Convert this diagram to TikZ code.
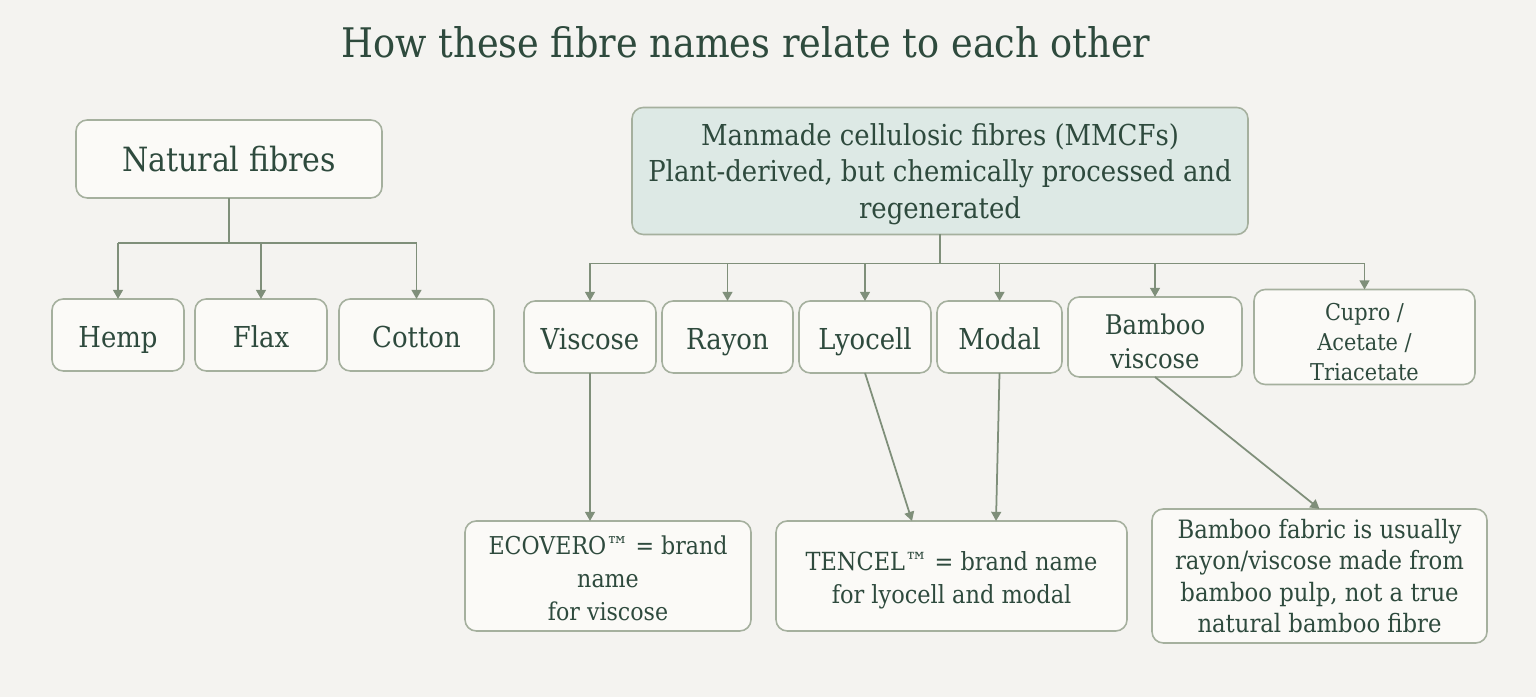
\documentclass[tikz,border=0pt]{standalone}
\usepackage{fontspec}
\setmainfont{DejaVu Serif Condensed}
\usepackage{xcolor}
\definecolor{PageBg}{HTML}{F4F3F0}
\definecolor{BoxFill}{HTML}{FBFAF7}
\definecolor{BoxLine}{HTML}{A5B09E}
\definecolor{MmcfFill}{HTML}{DDE9E5}
\definecolor{TextGreen}{HTML}{2E4A3D}
\definecolor{LinkGreen}{HTML}{7F8F7A}
\usepackage{tikz}
\usetikzlibrary{arrows.meta,positioning}
\newcommand{\padtop}[1]{\rule{0pt}{#1}}

\begin{document}
\begin{tikzpicture}[
  box/.style={draw=BoxLine,fill=BoxFill,rounded corners=3.2pt,align=center,text=TextGreen,line width=0.45pt,inner sep=0pt,outer sep=0pt},
  leaf/.style={box,minimum height=0.72cm,text height=0.85em,text depth=0.12em,font=\fontsize{8.2}{10}\selectfont},
  note/.style={box,minimum height=1.10cm},
  lnk/.style={line width=0.5pt,LinkGreen},
  arr/.style={lnk,-{Triangle[length=2.6pt,width=2.8pt]}}
]
  \fill[PageBg] (0,0) rectangle (15.36,-6.97);
  \useasboundingbox (0,0) rectangle (15.36,-6.97);

  \node[text=TextGreen,font=\fontsize{11.6}{14}\selectfont] (title) at (7.46,-0.42) {How these fibre names relate to each other};

  % natural side
  \node[box,minimum width=3.06cm,minimum height=0.78cm,font=\fontsize{9.5}{12}\selectfont] (natural) at (2.29,-1.59) {Natural fibres};
  \node[leaf,minimum width=1.32cm] (hemp) at (1.18,-3.35) {Hemp};
  \node[leaf,minimum width=1.32cm,right=0.11cm of hemp] (flax) {Flax};
  \node[leaf,minimum width=1.55cm,right=0.12cm of flax] (cotton) {Cotton};

  % manmade side
  \node[box,fill=MmcfFill,minimum width=6.16cm,minimum height=1.27cm,font=\fontsize{8.2}{10.4}\selectfont] (mmcf) at (9.40,-1.71)
    {\padtop{7.9pt}Manmade cellulosic fibres (MMCFs)\\Plant-derived, but chemically processed and\\regenerated};
  \node[leaf,minimum width=1.32cm] (viscose) at (5.90,-3.37) {Viscose};
  \node[leaf,minimum width=1.31cm,right=0.06cm of viscose] (rayon) {Rayon};
  \node[leaf,minimum width=1.32cm,right=0.06cm of rayon] (lyocell) {Lyocell};
  \node[leaf,minimum width=1.25cm,right=0.06cm of lyocell] (modal) {Modal};
  \node[box,minimum width=1.74cm,minimum height=0.80cm,font=\fontsize{7.7}{9.6}\selectfont,right=0.06cm of modal] (bamboo) {\padtop{8.4pt}Bamboo\\viscose};
  \node[box,minimum width=2.21cm,minimum height=0.95cm,font=\fontsize{6.6}{8.5}\selectfont,right=0.12cm of bamboo] (cupro) {\padtop{7.9pt}Cupro /\\Acetate /\\Triacetate};

  % notes
  \node[note,minimum width=2.86cm,font=\fontsize{7}{9.4}\selectfont] (ecovero) at (6.08,-5.76) {\padtop{6.6pt}ECOVERO™ = brand\\name\\for viscose};
  \node[note,minimum width=3.51cm,font=\fontsize{7.1}{9.4}\selectfont] (tencel) at (9.515,-5.76) {\padtop{7.7pt}TENCEL™ = brand name\\for lyocell and modal};
  \node[note,minimum width=3.35cm,minimum height=1.34cm,font=\fontsize{7.2}{8.9}\selectfont] (bfabric) at (13.195,-5.76)
    {Bamboo fabric is usually\\rayon/viscose made from\\bamboo pulp, not a true\\natural bamboo fibre};

  % tree links
  \draw[lnk] (natural.south) -- ++(0,-0.45) coordinate (nfork);
  \draw[lnk] (nfork -| hemp.north) -- (nfork -| cotton.north);
  \foreach \n in {hemp,flax,cotton}
    \draw[arr] (nfork -| \n.north) -- (\n.north);

  \draw[lnk] (mmcf.south) -- ++(0,-0.29) coordinate (mfork);
  \draw[lnk] (mfork -| viscose.north) -- (mfork -| cupro.north);
  \foreach \n in {viscose,rayon,lyocell,modal,bamboo,cupro}
    \draw[arr] (mfork -| \n.north) -- (\n.north);

  % brand links
  \draw[arr] (viscose.south) -- (viscose.south |- ecovero.north);
  \draw[arr] (lyocell.south) -- ([xshift=-0.395cm]tencel.north);
  \draw[arr] (modal.south) -- ([xshift=0.445cm]tencel.north);
  \draw[arr] (bamboo.south) -- (bfabric.north);
\end{tikzpicture}
\end{document}
